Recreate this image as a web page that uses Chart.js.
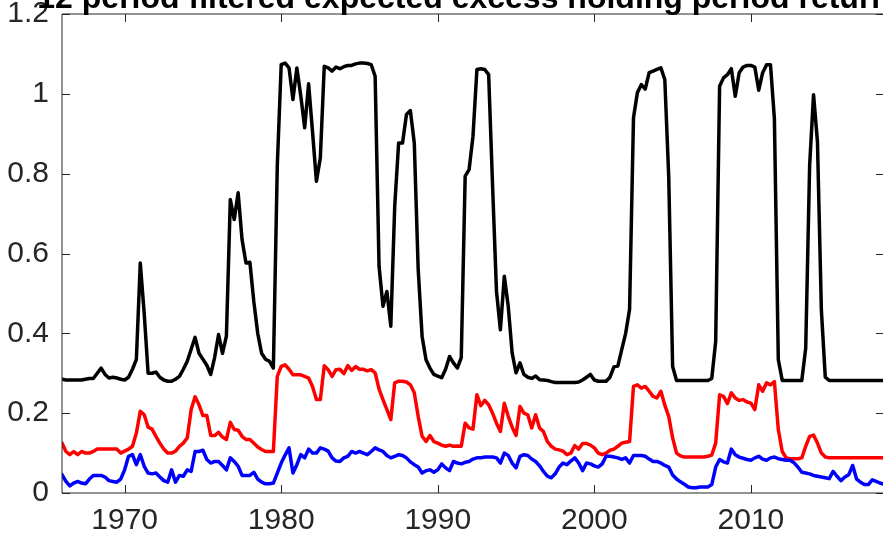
<!DOCTYPE html>
<html>
<head>
<meta charset="utf-8">
<script src="https://cdn.jsdelivr.net/npm/chart.js@4.4.1/dist/chart.umd.min.js"></script>
<style>
  html, body { margin: 0; padding: 0; background: #ffffff; overflow: hidden; }
  #wrap { width: 890px; height: 542px; position: relative; }
</style>
</head>
<body>
<div id="wrap"><canvas id="c" width="890" height="542"></canvas></div>
<script>
// ---- data (quarterly, 1966Q1 .. 2018Q3) ----
const titleText = "12 period filtered expected excess holding period returns";
const startYear = 1966;
const periodsPerYear = 4;
const xTickValues = [1970, 1980, 1990, 2000, 2010];
const xTickLabels = ["1970", "1980", "1990", "2000", "2010"];
const yTickValues = [0, 0.2, 0.4, 0.6, 0.8, 1, 1.2];
const yTickLabels = ["0", "0.2", "0.4", "0.6", "0.8", "1", "1.2"];

const blackSeries = [
  .285,.283,.283,.283, .283,.283,.285,.287, .287,.300,.313,.297, .288,.290,.288,.285,
  .283,.290,.310,.335, .576,.450,.300,.300, .303,.290,.283,.280, .280,.285,.292,.310,
  .330,.360,.390,.350, .335,.320,.297,.340, .397,.350,.393,.735, .685,.752,.635,.576,
  .578,.480,.400,.350, .335,.330,.313,.820, 1.073,1.077,1.065,.986, 1.065,.995,.915,1.025,
  .905,.781,.840,1.069, 1.065,1.057,1.067,1.063, 1.068,1.071,1.071,1.075, 1.077,1.077,1.076,1.073,
  1.044,.568,.468,.505, .418,.718,.877,.877, .948,.958,.877,.560, .392,.334,.313,.297,
  .293,.289,.310,.342, .326,.313,.339,.794, .810,.894,1.061,1.063, 1.061,1.048,.770,.505,
  .409,.543,.468,.351, .301,.326,.297,.290, .287,.293,.284,.283, .282,.279,.277,.277,
  .277,.277,.277,.277, .278,.283,.290,.297, .283,.280,.280,.280, .290,.316,.318,.359,
  .400,.460,.940,1.003, 1.023,1.012,1.053,1.057, 1.061,1.065,1.036,.794, .317,.282,.282,.282,
  .282,.282,.282,.282, .282,.282,.287,.380, 1.019,1.040,1.048,1.063, .994,1.053,1.067,1.071,
  1.071,1.067,1.009,1.053, 1.073,1.073,.937,.334, .282,.282,.282,.282, .282,.282,.363,.820,
  .998,.880,.459,.290, .282,.282,.282,.282, .282,.282,.282,.282, .282,.282,.282,.282,
  .282,.282,.282
];

const redSeries = [
  .125,.104,.096,.104, .096,.104,.100,.100, .104,.110,.110,.110, .110,.110,.110,.100,
  .105,.110,.117,.150, .205,.196,.165,.160, .142,.125,.110,.100, .100,.105,.117,.125,
  .138,.209,.241,.221, .194,.194,.144,.144, .152,.140,.134,.177, .159,.157,.142,.134,
  .134,.125,.115,.109, .104,.104,.104,.292, .317,.321,.310,.296, .296,.296,.292,.288,
  .267,.234,.234,.319, .309,.292,.309,.310, .299,.319,.307,.317, .310,.310,.306,.309,
  .301,.260,.234,.209, .184,.276,.280,.280, .278,.271,.251,.192, .142,.129,.144,.129,
  .125,.120,.117,.120, .117,.118,.117,.175, .163,.160,.246,.219, .232,.221,.200,.175,
  .154,.225,.192,.165, .144,.217,.200,.196, .163,.196,.163,.154, .129,.117,.110,.108,
  .105,.096,.100,.119, .110,.124,.124,.120, .113,.100,.096,.100, .107,.110,.117,.125,
  .127,.129,.267,.271, .263,.267,.255,.242, .238,.255,.220,.192, .138,.100,.093,.090,
  .090,.090,.090,.090, .090,.092,.095,.125, .246,.242,.224,.251, .238,.232,.234,.228,
  .225,.209,.271,.255, .276,.271,.279,.159, .104,.088,.086,.086, .086,.088,.117,.142,
  .145,.125,.100,.090, .088,.088,.088,.088, .088,.088,.088,.088, .088,.088,.088,.088,
  .088,.088,.088
];

const blueSeries = [
  .046,.029,.018,.025, .029,.025,.023,.035, .044,.044,.044,.040, .031,.029,.027,.035,
  .058,.092,.096,.071, .096,.067,.050,.048, .050,.040,.031,.027, .058,.027,.044,.042,
  .058,.054,.104,.104, .107,.084,.075,.079, .079,.069,.058,.088, .079,.067,.044,.044,
  .044,.052,.035,.027, .023,.023,.025,.050, .075,.095,.113,.050, .071,.096,.088,.110,
  .100,.100,.113,.110, .105,.088,.080,.079, .088,.092,.104,.100, .104,.100,.096,.104,
  .113,.108,.104,.094, .088,.092,.096,.094, .088,.078,.071,.065, .050,.056,.058,.052,
  .058,.073,.063,.056, .079,.075,.073,.077, .079,.085,.088,.088, .090,.090,.090,.088,
  .075,.100,.094,.075, .063,.092,.096,.094, .085,.079,.068,.054, .042,.038,.048,.065,
  .075,.071,.080,.088, .075,.056,.075,.073, .068,.065,.073,.092, .092,.090,.088,.084,
  .088,.075,.094,.094, .094,.092,.085,.079, .079,.075,.069,.065, .045,.035,.028,.022,
  .015,.013,.013,.015, .015,.015,.021,.065, .084,.078,.075,.110, .096,.090,.087,.084,
  .082,.088,.092,.085, .082,.088,.090,.086, .084,.082,.082,.076, .065,.052,.050,.048,
  .044,.042,.040,.038, .036,.054,.042,.031, .040,.046,.069,.035, .027,.021,.021,.033,
  .029,.025,.022
];

const dates = blackSeries.map((_, i) => startYear + i / periodsPerYear);
const toPoints = arr => arr.map((v, i) => ({ x: dates[i], y: v }));

const axisColor = '#262626';
const tickFont = { family: '"Liberation Sans", Arial, Helvetica, sans-serif', size: 30 };

const framePlugin = {
  id: 'frame',
  afterDraw(chart) {
    const { ctx, chartArea: { left, right, top, bottom }, scales: { x, y } } = chart;
    ctx.save();
    ctx.strokeStyle = axisColor;
    ctx.lineWidth = 1;
    ctx.beginPath();
    ctx.moveTo(left, top); ctx.lineTo(right, top); ctx.lineTo(right, bottom); ctx.lineTo(left, bottom); ctx.closePath();
    ctx.stroke();
    const tl = 8;
    ctx.beginPath();
    xTickValues.forEach(v => {
      const px = Math.round(x.getPixelForValue(v)) + 0.5;
      ctx.moveTo(px, bottom); ctx.lineTo(px, bottom - tl);
      ctx.moveTo(px, top); ctx.lineTo(px, top + tl);
    });
    yTickValues.forEach(v => {
      const py = Math.round(y.getPixelForValue(v)) + 0.5;
      ctx.moveTo(left, py); ctx.lineTo(left + tl, py);
      ctx.moveTo(right, py); ctx.lineTo(right - tl, py);
    });
    ctx.stroke();
    // title (partly above the visible area, as in the reference)
    ctx.fillStyle = '#000000';
    ctx.font = 'bold 32px "Liberation Sans", Arial, Helvetica, sans-serif';
    ctx.textAlign = 'center';
    ctx.textBaseline = 'alphabetic';
    ctx.fillText(titleText, (left + right) / 2, 8);
    ctx.restore();
  }
};

new Chart(document.getElementById('c'), {
  type: 'line',
  data: {
    datasets: [
      { label: 'black', data: toPoints(blackSeries), borderColor: '#000000', borderWidth: 3.5, order: 3 },
      { label: 'red', data: toPoints(redSeries), borderColor: '#ff0000', borderWidth: 3.5, order: 2 },
      { label: 'blue', data: toPoints(blueSeries), borderColor: '#0000ff', borderWidth: 3.5, order: 1 }
    ]
  },
  options: {
    responsive: false,
    animation: false,
    devicePixelRatio: 1,
    layout: { padding: { top: 14, right: 6, left: 0, bottom: 0 } },
    elements: { point: { radius: 0, hoverRadius: 0 }, line: { tension: 0, borderJoinStyle: 'round', borderCapStyle: 'round' } },
    plugins: { legend: { display: false }, tooltip: { enabled: false }, title: { display: false } },
    scales: {
      x: {
        type: 'linear',
        min: 1966,
        max: 2018.5,
        grid: { display: false, drawTicks: false },
        border: { display: false },
        ticks: {
          font: tickFont, color: axisColor, padding: 10, maxRotation: 0, autoSkip: false,
          callback: (v) => { const k = xTickValues.indexOf(v); return k >= 0 ? xTickLabels[k] : ''; }
        },
        afterBuildTicks: s => { s.ticks = xTickValues.map(v => ({ value: v })); },
        afterFit: s => { s.height = 49; s.paddingLeft = 0; s.paddingRight = 0; }
      },
      y: {
        type: 'linear',
        min: 0,
        max: 1.2,
        grid: { display: false, drawTicks: false },
        border: { display: false },
        ticks: {
          font: tickFont, color: axisColor, padding: 13,
          callback: (v) => { const k = yTickValues.findIndex(t => Math.abs(t - v) < 1e-9); return k >= 0 ? yTickLabels[k] : ''; }
        },
        afterBuildTicks: s => { s.ticks = yTickValues.map(v => ({ value: v })); },
        afterFit: s => { s.width = 62; s.paddingTop = 0; s.paddingBottom = 0; }
      }
    }
  },
  plugins: [framePlugin]
});
</script>
</body>
</html>
